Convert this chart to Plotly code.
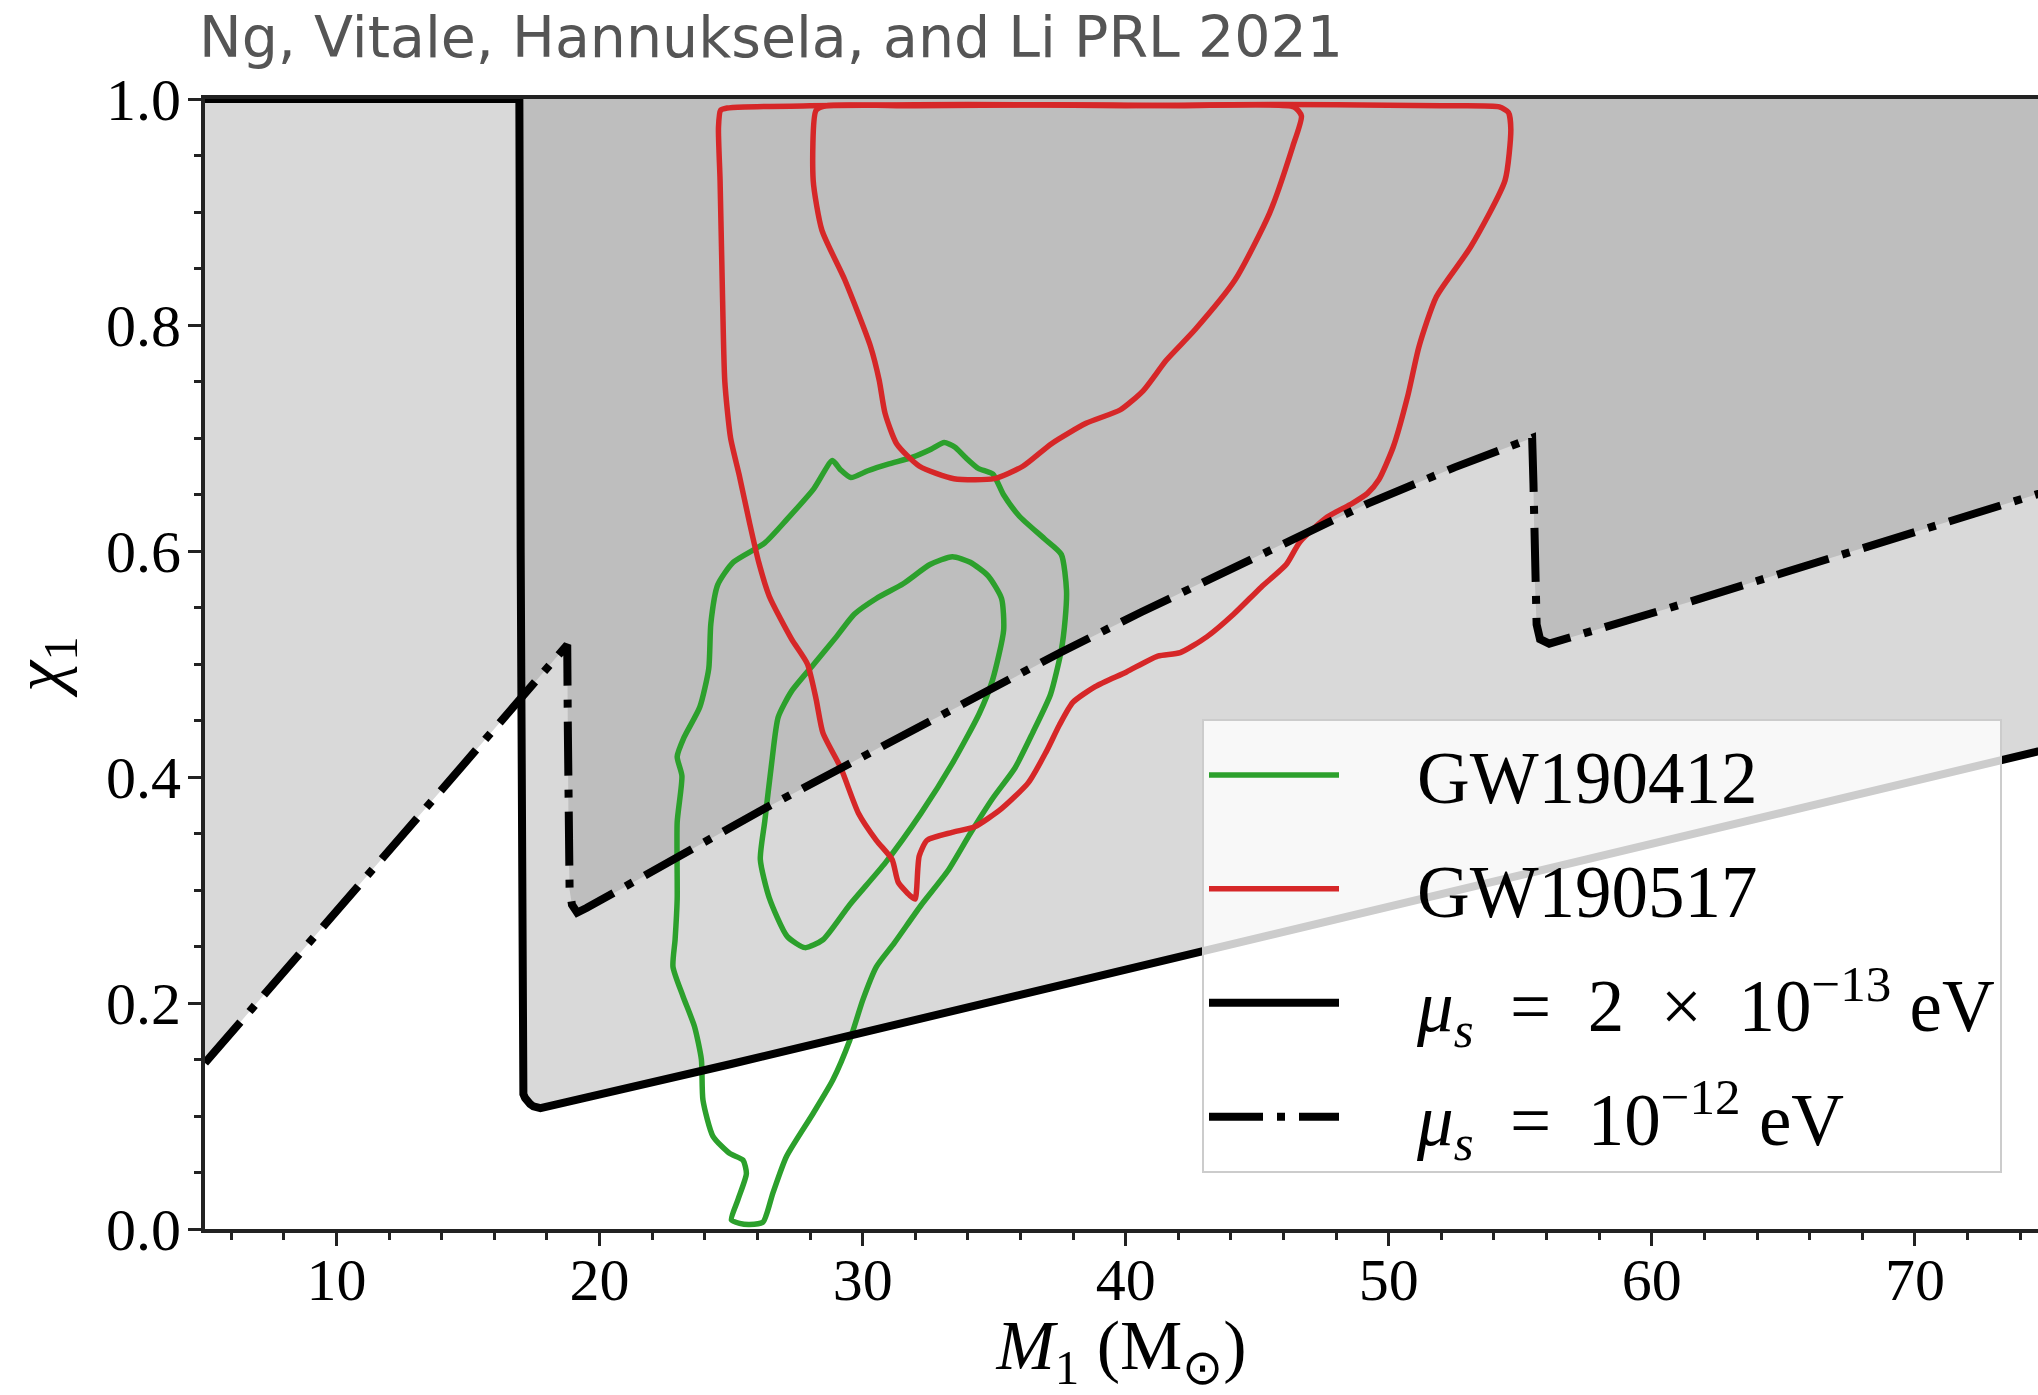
import numpy as np
import plotly.graph_objects as go

# ---------------- data (M1 in solar masses, chi1) ----------------
# Superradiance exclusion boundary, mu_s = 2e-13 eV (solid)
mu13_m1 = [5.0, 16.95, 17.0, 17.03, 17.05, 17.07, 17.103, 17.17, 17.255, 17.36, 17.482, 17.62,
           17.75, 25.0, 35.0, 45.0, 55.0, 65.0, 76.0]
mu13_chi = [1.0, 1.0, 0.60, 0.25, 0.127, 0.1225, 0.1193, 0.1158, 0.1129, 0.1105, 0.1085,
            0.1075, 0.107, 0.146, 0.202, 0.257, 0.313, 0.369, 0.430]

# Superradiance exclusion boundary, mu_s = 1e-12 eV (dash-dot)
mu12_m1 = [5.0, 18.77, 18.79, 18.82, 18.86, 18.95, 19.15, 19.5, 21.0, 23.5, 26.1, 28.8,
           31.5, 34.8, 37.5, 40.6, 43.6, 46.5, 49.2, 52.5, 55.45, 55.50, 55.56, 55.62,
           55.75, 56.1, 61.3, 67.5, 76.0]
mu12_chi = [0.147, 0.517, 0.45, 0.35, 0.30, 0.287, 0.280, 0.284, 0.303, 0.336, 0.370, 0.403,
            0.437, 0.476, 0.510, 0.546, 0.580, 0.612, 0.642, 0.674, 0.700, 0.66, 0.57, 0.535,
            0.522, 0.518, 0.554, 0.599, 0.660]

# GW190412 posterior contours (outer 90%, inner 50%)
gw412_outer_m1 = [28.85, 29.15, 29.55, 30.2, 31.0, 31.9, 32.6, 33.1, 33.5, 33.9, 34.4, 34.95,
                  35.35, 35.95, 36.9, 37.55, 37.75, 37.7, 37.55, 37.14, 36.46, 35.79, 34.94,
                  34.09, 33.24, 32.22, 31.2, 30.52, 30.01, 29.51, 28.87, 28.11, 27.10, 26.59,
                  26.21, 25.7, 25.32, 25.01, 25.26, 25.58, 25.45, 24.94, 24.31, 23.93, 23.87,
                  23.61, 23.17, 22.79, 22.87, 22.95, 22.95, 23.13, 22.95, 23.21, 23.81, 24.15,
                  24.23, 24.49, 25.08, 26.27, 27.12, 28.14, 28.85]
gw412_outer_chi = [0.680, 0.672, 0.665, 0.671, 0.677, 0.683, 0.690, 0.696, 0.692, 0.683, 0.673,
                   0.668, 0.650, 0.631, 0.611, 0.597, 0.565, 0.540, 0.512, 0.473, 0.439, 0.408,
                   0.381, 0.350, 0.317, 0.2865, 0.253, 0.232, 0.203, 0.167, 0.132, 0.102, 0.064,
                   0.032, 0.006, 0.004, 0.005, 0.008, 0.026, 0.049, 0.061, 0.067, 0.082, 0.114,
                   0.150, 0.179, 0.206, 0.232, 0.256, 0.292, 0.360, 0.401, 0.418, 0.435, 0.462,
                   0.496, 0.536, 0.570, 0.590, 0.607, 0.628, 0.655, 0.680]
gw412_inner_m1 = [33.41, 32.56, 31.54, 30.52, 29.68, 29.0, 28.15, 27.30, 26.79, 26.54, 26.28,
                  26.11, 26.45, 27.13, 27.81, 28.49, 29.51, 30.86, 32.22, 33.41, 34.43, 34.94,
                  35.36, 35.28, 34.77, 34.09, 33.41]
gw412_inner_chi = [0.595, 0.588, 0.571, 0.558, 0.544, 0.524, 0.500, 0.476, 0.453, 0.412, 0.361,
                   0.327, 0.293, 0.259, 0.249, 0.256, 0.287, 0.324, 0.368, 0.412, 0.456, 0.486,
                   0.530, 0.558, 0.578, 0.590, 0.595]

# GW190517 posterior contours (outer 90%, inner 50%)
gw517_outer_m1 = [24.60, 24.52, 24.58, 24.66, 24.76, 24.98, 25.30, 25.70, 26.05, 26.45, 27.30,
                  27.90, 28.23, 28.49, 29.17, 29.84, 30.52, 31.12, 31.35, 31.80, 32.00, 32.05,
                  32.15, 32.45, 33.40, 34.26, 35.28, 36.30, 36.97, 37.48, 37.99, 38.84, 40.03,
                  41.22, 42.07, 43.08, 44.10, 45.15, 46.10, 46.62, 47.66, 48.60, 49.19, 49.62,
                  50.17, 50.72, 51.15, 51.81, 53.11, 54.42, 54.64, 54.55, 54.20, 52.0, 48.0,
                  44.0, 40.0, 36.0, 32.0, 28.0, 25.5, 24.85, 24.60]
gw517_outer_chi = [0.990, 0.975, 0.928, 0.840, 0.750, 0.700, 0.668, 0.625, 0.590, 0.560, 0.522,
                   0.500, 0.469, 0.439, 0.408, 0.368, 0.344, 0.327, 0.307, 0.295, 0.292, 0.300,
                   0.330, 0.344, 0.351, 0.356, 0.372, 0.395, 0.422, 0.446, 0.466, 0.480, 0.493,
                   0.507, 0.510, 0.524, 0.544, 0.568, 0.588, 0.608, 0.630, 0.642, 0.651, 0.663,
                   0.692, 0.737, 0.781, 0.825, 0.869, 0.928, 0.973, 0.988, 0.993, 0.994, 0.995,
                   0.995, 0.994, 0.995, 0.995, 0.994, 0.993, 0.992, 0.990]
gw517_inner_m1 = [28.23, 28.12, 28.45, 29.32, 30.30, 30.63, 30.85, 31.29, 32.16, 33.47, 35.00,
                  36.09, 37.18, 38.49, 39.80, 40.67, 41.55, 42.64, 44.16, 45.47, 46.35, 46.68,
                  46.40, 42.0, 37.0, 32.0, 28.6, 28.23]
gw517_inner_chi = [0.990, 0.928, 0.884, 0.840, 0.781, 0.751, 0.722, 0.695, 0.675, 0.664, 0.664,
                   0.675, 0.695, 0.713, 0.725, 0.742, 0.769, 0.796, 0.840, 0.899, 0.958, 0.985,
                   0.993, 0.994, 0.995, 0.994, 0.994, 0.990]

x_range = [5, 74.68]
y_range = [0, 1]
x_ticks = [10, 20, 30, 40, 50, 60, 70]
y_ticks = [0.0, 0.2, 0.4, 0.6, 0.8, 1.0]

title_text = "Ng, Vitale, Hannuksela, and Li PRL 2021"
NB = "\u00a0"
PAD = NB * 4
leg_412 = PAD + "GW190412"
leg_517 = PAD + "GW190517"
leg_mu13 = (PAD + "<i>μ<sub>s</sub></i>" + NB * 2 + "=" + NB * 2 + "2" + NB * 2 + "×" + NB * 2
            + "10<sup>−13</sup>" + NB + "eV")
leg_mu12 = PAD + "<i>μ<sub>s</sub></i>" + NB * 2 + "=" + NB * 2 + "10<sup>−12</sup>" + NB + "eV"

# ---------------- figure ----------------
LIGHT = "#d9d9d9"
DARK = "#bebebe"
GREEN = "#2ca02c"
RED = "#d62728"
SERIF = "Liberation Serif"

fig = go.Figure()

# exclusion region of the solid boundary
fig.add_trace(go.Scatter(x=mu13_m1 + [mu13_m1[-1]], y=mu13_chi + [1.0], fill="toself",
                         fillcolor=LIGHT, mode="none", showlegend=False, hoverinfo="skip"))
# exclusion region of the dash-dot boundary
fig.add_trace(go.Scatter(x=mu12_m1 + [mu12_m1[-1], mu12_m1[0]], y=mu12_chi + [1.0, 1.0],
                         fill="toself", fillcolor=LIGHT, mode="none", showlegend=False,
                         hoverinfo="skip"))
# overlap of both exclusion regions
xv = mu13_m1[1]
yv = float(np.interp(xv, mu12_m1, mu12_chi))
xc = [xv, xv] + [m for m in mu12_m1 if m > xv] + [mu12_m1[-1]]
yc = [1.0, yv] + [c for m, c in zip(mu12_m1, mu12_chi) if m > xv] + [1.0]
fig.add_trace(go.Scatter(x=xc, y=yc, fill="toself", fillcolor=DARK, mode="none",
                         showlegend=False, hoverinfo="skip"))

spline = dict(shape="spline", smoothing=0.6)
CW = 5.5
fig.add_trace(go.Scatter(x=gw412_outer_m1, y=gw412_outer_chi, mode="lines", name=leg_412,
                         legendgroup="a", line=dict(color=GREEN, width=CW, **spline)))
fig.add_trace(go.Scatter(x=gw412_inner_m1, y=gw412_inner_chi, mode="lines", showlegend=False,
                         legendgroup="a", line=dict(color=GREEN, width=CW, **spline)))
fig.add_trace(go.Scatter(x=gw517_outer_m1, y=gw517_outer_chi, mode="lines", name=leg_517,
                         legendgroup="b", line=dict(color=RED, width=CW, **spline)))
fig.add_trace(go.Scatter(x=gw517_inner_m1, y=gw517_inner_chi, mode="lines", showlegend=False,
                         legendgroup="b", line=dict(color=RED, width=CW, **spline)))
fig.add_trace(go.Scatter(x=mu13_m1, y=mu13_chi, mode="lines", name=leg_mu13, legendgroup="c",
                         line=dict(color="black", width=8)))
fig.add_trace(go.Scatter(x=mu12_m1, y=mu12_chi, mode="lines", name=leg_mu12, legendgroup="d",
                         line=dict(color="black", width=8, dash="54px,14px,8px,14px")))

W, H = 2038, 1395
L, R, T, B = 205, 0, 99, 166
fig.update_layout(
    width=W, height=H,
    margin=dict(l=L, r=R, t=T, b=B, pad=0),
    paper_bgcolor="white", plot_bgcolor="white",
    hovermode=False,
    title=dict(text=title_text, x=199 / W, xanchor="left", xref="container",
               y=1 - 37 / H, yanchor="middle", yref="container",
               font=dict(family="DejaVu Sans", size=57, color="#555555")),
    legend=dict(x=(1202 - L) / (W - L - R), y=(H - B - 719) / (H - T - B),
                xanchor="left", yanchor="top",
                bgcolor="rgba(255,255,255,0.8)", bordercolor="#cccccc", borderwidth=2,
                font=dict(family=SERIF, size=73, color="black"),
                itemwidth=130, tracegroupgap=16),
)
axis_common = dict(showgrid=False, zeroline=False, showline=True, linecolor="#222222",
                   linewidth=4, ticks="outside", ticklen=13, tickwidth=3, tickcolor="#222222",
                   tickfont=dict(family=SERIF, size=60, color="black"))
fig.update_xaxes(range=x_range, tickvals=x_ticks, mirror=True, ticklabelstandoff=-18,
                 minor=dict(dtick=2, tick0=0, ticks="outside", ticklen=7, tickwidth=2.5,
                            tickcolor="#222222"),
                 title=dict(text="<i>M</i><sub>1</sub> (M<sub>⊙</sub>)",
                            font=dict(family=SERIF, size=70, color="black"), standoff=26),
                 **axis_common)
fig.update_yaxes(range=y_range, tickvals=y_ticks, tickformat=".1f", ticklabelstandoff=-5,
                 minor=dict(dtick=0.05, tick0=0, ticks="outside", ticklen=7, tickwidth=2.5,
                            tickcolor="#222222"),
                 title=dict(text="<i>χ</i><sub>1</sub>",
                            font=dict(family=SERIF, size=70, color="black"), standoff=22),
                 **axis_common)

fig.write_html("out.html")
